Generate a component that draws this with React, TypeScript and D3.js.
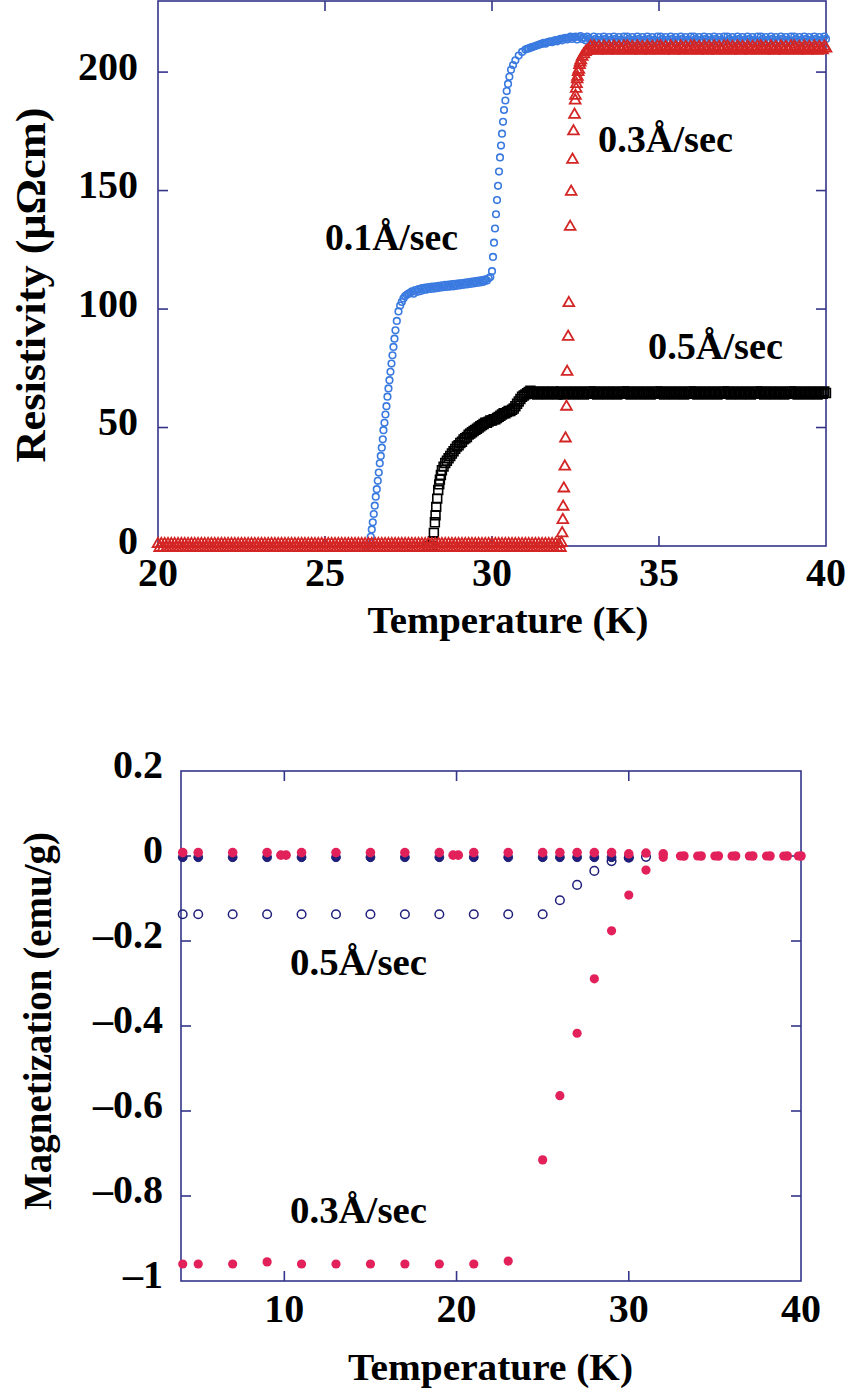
import React from "react";
import * as d3 from "d3";

const FONT = "'Liberation Serif', 'Times New Roman', Times, serif";
const FRAME = "#34348a";

// ---------- Top chart: resistivity vs temperature ----------
const topXTicks = [20, 25, 30, 35, 40];
const topYTicks = [0, 50, 100, 150, 200];

// 0.1 Å/sec (blue open circles)
const rate01: [number, number][] = [
  [26.2, 0], [26.3, 0.5], [26.35, 1.5],
  [26.37, 3.9], [26.4, 7], [26.43, 10], [26.46, 13.5], [26.49, 17], [26.52, 20.8], [26.55, 24], [26.58, 27.5],
  [26.61, 31], [26.64, 34.9], [26.67, 38], [26.7, 41.5], [26.73, 45], [26.75, 48.9], [26.78, 52], [26.81, 55.5],
  [26.84, 59], [26.87, 63], [26.9, 66.5], [26.93, 70], [26.96, 73.5], [26.99, 77], [27.02, 80.5], [27.05, 84],
  [27.08, 87.5], [27.11, 91], [27.15, 95], [27.2, 99], [27.25, 101.5], [27.3, 103], [27.35, 104.5], [27.4, 105.5],
  [27.45, 106], [27.5, 106.5],
  [27.55, 106.8], [27.6, 107.5], [27.65, 106.5], [27.7, 108], [27.75, 107.2], [27.8, 108.4], [27.85, 107.5], [27.9, 108.8],
  [27.95, 108], [28, 109], [28.05, 108.2], [28.1, 109.3], [28.15, 108.5], [28.2, 109.5], [28.25, 108.6], [28.3, 109.6],
  [28.35, 108.8], [28.4, 109.8], [28.45, 109], [28.5, 110], [28.55, 109.2], [28.6, 110.2], [28.65, 109.3], [28.7, 110.3],
  [28.75, 109.5], [28.8, 110.5], [28.85, 109.6], [28.9, 110.6], [28.95, 109.8], [29, 110.8], [29.05, 110], [29.1, 111],
  [29.15, 110.2], [29.2, 111.2], [29.25, 110.4], [29.3, 111.4], [29.35, 110.6], [29.4, 111.6], [29.45, 110.8], [29.5, 111.8],
  [29.55, 111], [29.6, 112], [29.65, 111.2], [29.7, 112.2], [29.75, 111.5], [29.8, 112.5], [29.85, 112], [29.9, 113],
  [29.95, 113.5],
  [30.0, 116], [30.03, 122], [30.06, 128], [30.09, 134], [30.12, 140], [30.15, 146], [30.18, 152], [30.21, 158],
  [30.24, 164], [30.27, 169], [30.3, 174], [30.33, 179], [30.36, 184], [30.4, 188], [30.44, 192], [30.48, 195],
  [30.52, 198], [30.57, 201], [30.63, 203], [30.7, 205], [30.8, 207], [30.9, 208.5],
  [31, 209.5], [31.05, 209.8], [31.1, 210], [31.15, 210.3], [31.2, 210.5], [31.25, 210.8], [31.3, 211], [31.35, 211.3],
  [31.4, 211.5], [31.45, 211.8], [31.5, 212], [31.55, 212.3], [31.6, 212], [31.65, 212.5], [31.7, 212.8], [31.75, 213],
  [31.8, 212.6], [31.85, 213.2], [31.9, 213.5], [31.95, 213], [32, 213.6], [32.05, 214], [32.1, 213.4], [32.15, 214.2],
  [32.2, 214.5], [32.25, 213.8], [32.3, 214.4], [32.35, 215], [32.4, 214], [32.45, 214.6], [32.5, 215], [32.55, 213.8],
  [32.6, 214.8], [32.65, 215.2], [32.7, 214], [32.75, 214.6], [32.8, 213.4], [32.85, 215], [32.9, 214.2], [32.95, 213.6],
  [33, 213.2], [33.05, 215], [33.1, 214], [33.15, 212.8], [33.2, 214.8], [33.25, 213.6], [33.3, 213.2], [33.35, 215], [33.4, 214], [33.45, 212.8], [33.5, 214.8], [33.55, 213.6], [33.6, 213.2], [33.65, 215], [33.7, 214], [33.75, 212.8], [33.8, 214.8], [33.85, 213.6], [33.9, 213.2], [33.95, 215],
  [34, 213.2], [34.05, 215], [34.1, 214], [34.15, 212.8], [34.2, 214.8], [34.25, 213.6], [34.3, 213.2], [34.35, 215], [34.4, 214], [34.45, 212.8], [34.5, 214.8], [34.55, 213.6], [34.6, 213.2], [34.65, 215], [34.7, 214], [34.75, 212.8], [34.8, 214.8], [34.85, 213.6], [34.9, 213.2], [34.95, 215],
  [35, 213.2], [35.05, 215], [35.1, 214], [35.15, 212.8], [35.2, 214.8], [35.25, 213.6], [35.3, 213.2], [35.35, 215], [35.4, 214], [35.45, 212.8], [35.5, 214.8], [35.55, 213.6], [35.6, 213.2], [35.65, 215], [35.7, 214], [35.75, 212.8], [35.8, 214.8], [35.85, 213.6], [35.9, 213.2], [35.95, 215],
  [36, 213.2], [36.05, 215], [36.1, 214], [36.15, 212.8], [36.2, 214.8], [36.25, 213.6], [36.3, 213.2], [36.35, 215], [36.4, 214], [36.45, 212.8], [36.5, 214.8], [36.55, 213.6], [36.6, 213.2], [36.65, 215], [36.7, 214], [36.75, 212.8], [36.8, 214.8], [36.85, 213.6], [36.9, 213.2], [36.95, 215],
  [37, 213.2], [37.05, 215], [37.1, 214], [37.15, 212.8], [37.2, 214.8], [37.25, 213.6], [37.3, 213.2], [37.35, 215], [37.4, 214], [37.45, 212.8], [37.5, 214.8], [37.55, 213.6], [37.6, 213.2], [37.65, 215], [37.7, 214], [37.75, 212.8], [37.8, 214.8], [37.85, 213.6], [37.9, 213.2], [37.95, 215],
  [38, 213.2], [38.05, 215], [38.1, 214], [38.15, 212.8], [38.2, 214.8], [38.25, 213.6], [38.3, 213.2], [38.35, 215], [38.4, 214], [38.45, 212.8], [38.5, 214.8], [38.55, 213.6], [38.6, 213.2], [38.65, 215], [38.7, 214], [38.75, 212.8], [38.8, 214.8], [38.85, 213.6], [38.9, 213.2], [38.95, 215],
  [39, 213.2], [39.05, 215], [39.1, 214], [39.15, 212.8], [39.2, 214.8], [39.25, 213.6], [39.3, 213.2], [39.35, 215], [39.4, 214], [39.45, 212.8], [39.5, 214.8], [39.55, 213.6], [39.6, 213.2], [39.65, 215], [39.7, 214], [39.75, 212.8], [39.8, 214.8], [39.85, 213.6], [39.9, 213.2], [39.95, 215],
  [40, 214],
];

// 0.5 Å/sec (black open squares)
const rate05: [number, number][] = [
  [28.1, 0], [28.2, 0], [28.23, 2], [28.26, 5.5], [28.29, 10], [28.31, 13], [28.33, 16.5], [28.36, 20],
  [28.39, 23.6], [28.42, 26], [28.44, 28], [28.47, 30], [28.5, 32], [28.55, 33.5], [28.6, 35], [28.65, 36],
  [28.7, 37], [28.75, 38], [28.8, 39], [28.85, 40], [28.9, 41], [28.95, 42], [29.0, 42.5], [29.05, 43.5],
  [29.1, 44], [29.15, 45], [29.2, 45.5], [29.25, 46], [29.3, 47], [29.35, 47.5], [29.4, 48], [29.45, 48.5],
  [29.5, 49], [29.55, 49.5], [29.6, 50], [29.65, 50.5], [29.7, 51], [29.75, 51.5], [29.8, 52], [29.85, 52],
  [29.9, 52.5], [29.95, 53], [30.0, 53], [30.05, 53.5], [30.1, 53.5], [30.15, 54], [30.2, 54.5], [30.25, 55],
  [30.3, 55.5], [30.35, 56], [30.4, 56], [30.45, 56.5], [30.5, 57], [30.55, 57], [30.6, 57.5], [30.65, 58],
  [30.7, 59], [30.75, 60], [30.8, 61], [30.85, 62], [30.9, 63], [30.95, 63.5], [31.0, 64], [31.05, 64.5],
  [31.1, 65], [31.15, 65.5],
  [31.2, 64.2], [31.25, 65.2], [31.3, 64.6], [31.35, 63.9], [31.4, 65], [31.45, 64.4], [31.5, 64.2], [31.55, 65.2], [31.6, 64.6], [31.65, 63.9], [31.7, 65], [31.75, 64.4], [31.8, 64.2], [31.85, 65.2], [31.9, 64.6], [31.95, 63.9],
  [32, 64.2], [32.05, 65.2], [32.1, 64.6], [32.15, 63.9], [32.2, 65], [32.25, 64.4], [32.3, 64.2], [32.35, 65.2], [32.4, 64.6], [32.45, 63.9], [32.5, 65], [32.55, 64.4], [32.6, 64.2], [32.65, 65.2], [32.7, 64.6], [32.75, 63.9], [32.8, 65], [32.85, 64.4], [32.9, 64.2], [32.95, 65.2],
  [33, 64.2], [33.05, 65.2], [33.1, 64.6], [33.15, 63.9], [33.2, 65], [33.25, 64.4], [33.3, 64.2], [33.35, 65.2], [33.4, 64.6], [33.45, 63.9], [33.5, 65], [33.55, 64.4], [33.6, 64.2], [33.65, 65.2], [33.7, 64.6], [33.75, 63.9], [33.8, 65], [33.85, 64.4], [33.9, 64.2], [33.95, 65.2],
  [34, 64.2], [34.05, 65.2], [34.1, 64.6], [34.15, 63.9], [34.2, 65], [34.25, 64.4], [34.3, 64.2], [34.35, 65.2], [34.4, 64.6], [34.45, 63.9], [34.5, 65], [34.55, 64.4], [34.6, 64.2], [34.65, 65.2], [34.7, 64.6], [34.75, 63.9], [34.8, 65], [34.85, 64.4], [34.9, 64.2], [34.95, 65.2],
  [35, 64.2], [35.05, 65.2], [35.1, 64.6], [35.15, 63.9], [35.2, 65], [35.25, 64.4], [35.3, 64.2], [35.35, 65.2], [35.4, 64.6], [35.45, 63.9], [35.5, 65], [35.55, 64.4], [35.6, 64.2], [35.65, 65.2], [35.7, 64.6], [35.75, 63.9], [35.8, 65], [35.85, 64.4], [35.9, 64.2], [35.95, 65.2],
  [36, 64.2], [36.05, 65.2], [36.1, 64.6], [36.15, 63.9], [36.2, 65], [36.25, 64.4], [36.3, 64.2], [36.35, 65.2], [36.4, 64.6], [36.45, 63.9], [36.5, 65], [36.55, 64.4], [36.6, 64.2], [36.65, 65.2], [36.7, 64.6], [36.75, 63.9], [36.8, 65], [36.85, 64.4], [36.9, 64.2], [36.95, 65.2],
  [37, 64.2], [37.05, 65.2], [37.1, 64.6], [37.15, 63.9], [37.2, 65], [37.25, 64.4], [37.3, 64.2], [37.35, 65.2], [37.4, 64.6], [37.45, 63.9], [37.5, 65], [37.55, 64.4], [37.6, 64.2], [37.65, 65.2], [37.7, 64.6], [37.75, 63.9], [37.8, 65], [37.85, 64.4], [37.9, 64.2], [37.95, 65.2],
  [38, 64.2], [38.05, 65.2], [38.1, 64.6], [38.15, 63.9], [38.2, 65], [38.25, 64.4], [38.3, 64.2], [38.35, 65.2], [38.4, 64.6], [38.45, 63.9], [38.5, 65], [38.55, 64.4], [38.6, 64.2], [38.65, 65.2], [38.7, 64.6], [38.75, 63.9], [38.8, 65], [38.85, 64.4], [38.9, 64.2], [38.95, 65.2],
  [39, 64.2], [39.05, 65.2], [39.1, 64.6], [39.15, 63.9], [39.2, 65], [39.25, 64.4], [39.3, 64.2], [39.35, 65.2], [39.4, 64.6], [39.45, 63.9], [39.5, 65], [39.55, 64.4], [39.6, 64.2], [39.65, 65.2], [39.7, 64.6], [39.75, 63.9], [39.8, 65], [39.85, 64.4], [39.9, 64.2], [39.95, 65.2],
  [40, 64.6],
];

// 0.3 Å/sec (red open triangles)
const rate03: [number, number][] = [
  [20, .8], [20.05, -.8], [20.1, .8], [20.15, -.8], [20.2, .8], [20.25, -.8], [20.3, .8], [20.35, -.8], [20.4, .8], [20.45, -.8], [20.5, .8], [20.55, -.8], [20.6, .8], [20.65, -.8], [20.7, .8], [20.75, -.8], [20.8, .8], [20.85, -.8], [20.9, .8], [20.95, -.8],
  [21, .8], [21.05, -.8], [21.1, .8], [21.15, -.8], [21.2, .8], [21.25, -.8], [21.3, .8], [21.35, -.8], [21.4, .8], [21.45, -.8], [21.5, .8], [21.55, -.8], [21.6, .8], [21.65, -.8], [21.7, .8], [21.75, -.8], [21.8, .8], [21.85, -.8], [21.9, .8], [21.95, -.8],
  [22, .8], [22.05, -.8], [22.1, .8], [22.15, -.8], [22.2, .8], [22.25, -.8], [22.3, .8], [22.35, -.8], [22.4, .8], [22.45, -.8], [22.5, .8], [22.55, -.8], [22.6, .8], [22.65, -.8], [22.7, .8], [22.75, -.8], [22.8, .8], [22.85, -.8], [22.9, .8], [22.95, -.8],
  [23, .8], [23.05, -.8], [23.1, .8], [23.15, -.8], [23.2, .8], [23.25, -.8], [23.3, .8], [23.35, -.8], [23.4, .8], [23.45, -.8], [23.5, .8], [23.55, -.8], [23.6, .8], [23.65, -.8], [23.7, .8], [23.75, -.8], [23.8, .8], [23.85, -.8], [23.9, .8], [23.95, -.8],
  [24, .8], [24.05, -.8], [24.1, .8], [24.15, -.8], [24.2, .8], [24.25, -.8], [24.3, .8], [24.35, -.8], [24.4, .8], [24.45, -.8], [24.5, .8], [24.55, -.8], [24.6, .8], [24.65, -.8], [24.7, .8], [24.75, -.8], [24.8, .8], [24.85, -.8], [24.9, .8], [24.95, -.8],
  [25, .8], [25.05, -.8], [25.1, .8], [25.15, -.8], [25.2, .8], [25.25, -.8], [25.3, .8], [25.35, -.8], [25.4, .8], [25.45, -.8], [25.5, .8], [25.55, -.8], [25.6, .8], [25.65, -.8], [25.7, .8], [25.75, -.8], [25.8, .8], [25.85, -.8], [25.9, .8], [25.95, -.8],
  [26, .8], [26.05, -.8], [26.1, .8], [26.15, -.8], [26.2, .8], [26.25, -.8], [26.3, .8], [26.35, -.8], [26.4, .8], [26.45, -.8], [26.5, .8], [26.55, -.8], [26.6, .8], [26.65, -.8], [26.7, .8], [26.75, -.8], [26.8, .8], [26.85, -.8], [26.9, .8], [26.95, -.8],
  [27, .8], [27.05, -.8], [27.1, .8], [27.15, -.8], [27.2, .8], [27.25, -.8], [27.3, .8], [27.35, -.8], [27.4, .8], [27.45, -.8], [27.5, .8], [27.55, -.8], [27.6, .8], [27.65, -.8], [27.7, .8], [27.75, -.8], [27.8, .8], [27.85, -.8], [27.9, .8], [27.95, -.8],
  [28, .8], [28.05, -.8], [28.1, .8], [28.15, -.8], [28.2, .8], [28.25, -.8], [28.3, .8], [28.35, -.8], [28.4, .8], [28.45, -.8], [28.5, .8], [28.55, -.8], [28.6, .8], [28.65, -.8], [28.7, .8], [28.75, -.8], [28.8, .8], [28.85, -.8], [28.9, .8], [28.95, -.8],
  [29, .8], [29.05, -.8], [29.1, .8], [29.15, -.8], [29.2, .8], [29.25, -.8], [29.3, .8], [29.35, -.8], [29.4, .8], [29.45, -.8], [29.5, .8], [29.55, -.8], [29.6, .8], [29.65, -.8], [29.7, .8], [29.75, -.8], [29.8, .8], [29.85, -.8], [29.9, .8], [29.95, -.8],
  [30, .8], [30.05, -.8], [30.1, .8], [30.15, -.8], [30.2, .8], [30.25, -.8], [30.3, .8], [30.35, -.8], [30.4, .8], [30.45, -.8], [30.5, .8], [30.55, -.8], [30.6, .8], [30.65, -.8], [30.7, .8], [30.75, -.8], [30.8, .8], [30.85, -.8], [30.9, .8], [30.95, -.8],
  [31, .8], [31.05, -.8], [31.1, .8], [31.15, -.8], [31.2, .8], [31.25, -.8], [31.3, .8], [31.35, -.8], [31.4, .8], [31.45, -.8], [31.5, .8], [31.55, -.8], [31.6, .8], [31.65, -.8], [31.7, .8], [31.75, -.8], [31.8, .8], [31.85, -.8], [31.9, .8], [31.95, -.8],
  [32, .8], [32.05, -.8],
  [32.08, 1.3], [32.1, 5.4], [32.12, 11], [32.13, 16.6], [32.15, 24.3], [32.18, 33.5], [32.2, 45.4], [32.23, 58.8],
  [32.25, 73.5], [32.28, 88.3], [32.3, 102.5], [32.34, 134.7], [32.37, 149.5], [32.41, 163], [32.44, 175],
  [32.47, 182], [32.49, 188], [32.5, 190], [32.52, 193], [32.53, 195], [32.55, 197], [32.56, 198], [32.58, 200],
  [32.6, 201], [32.62, 203], [32.64, 204], [32.66, 205], [32.7, 206.5], [32.75, 207.5], [32.8, 208.5], [32.85, 209],
  [32.9, 209.2], [32.95, 210.8],
  [33, 209.2], [33.05, 210.8], [33.1, 210], [33.15, 209], [33.2, 210.6], [33.25, 209.6], [33.3, 209.2], [33.35, 210.8], [33.4, 210], [33.45, 209], [33.5, 210.6], [33.55, 209.6], [33.6, 209.2], [33.65, 210.8], [33.7, 210], [33.75, 209], [33.8, 210.6], [33.85, 209.6], [33.9, 209.2], [33.95, 210.8],
  [34, 209.2], [34.05, 210.8], [34.1, 210], [34.15, 209], [34.2, 210.6], [34.25, 209.6], [34.3, 209.2], [34.35, 210.8], [34.4, 210], [34.45, 209], [34.5, 210.6], [34.55, 209.6], [34.6, 209.2], [34.65, 210.8], [34.7, 210], [34.75, 209], [34.8, 210.6], [34.85, 209.6], [34.9, 209.2], [34.95, 210.8],
  [35, 209.2], [35.05, 210.8], [35.1, 210], [35.15, 209], [35.2, 210.6], [35.25, 209.6], [35.3, 209.2], [35.35, 210.8], [35.4, 210], [35.45, 209], [35.5, 210.6], [35.55, 209.6], [35.6, 209.2], [35.65, 210.8], [35.7, 210], [35.75, 209], [35.8, 210.6], [35.85, 209.6], [35.9, 209.2], [35.95, 210.8],
  [36, 209.2], [36.05, 210.8], [36.1, 210], [36.15, 209], [36.2, 210.6], [36.25, 209.6], [36.3, 209.2], [36.35, 210.8], [36.4, 210], [36.45, 209], [36.5, 210.6], [36.55, 209.6], [36.6, 209.2], [36.65, 210.8], [36.7, 210], [36.75, 209], [36.8, 210.6], [36.85, 209.6], [36.9, 209.2], [36.95, 210.8],
  [37, 209.2], [37.05, 210.8], [37.1, 210], [37.15, 209], [37.2, 210.6], [37.25, 209.6], [37.3, 209.2], [37.35, 210.8], [37.4, 210], [37.45, 209], [37.5, 210.6], [37.55, 209.6], [37.6, 209.2], [37.65, 210.8], [37.7, 210], [37.75, 209], [37.8, 210.6], [37.85, 209.6], [37.9, 209.2], [37.95, 210.8],
  [38, 209.2], [38.05, 210.8], [38.1, 210], [38.15, 209], [38.2, 210.6], [38.25, 209.6], [38.3, 209.2], [38.35, 210.8], [38.4, 210], [38.45, 209], [38.5, 210.6], [38.55, 209.6], [38.6, 209.2], [38.65, 210.8], [38.7, 210], [38.75, 209], [38.8, 210.6], [38.85, 209.6], [38.9, 209.2], [38.95, 210.8],
  [39, 209.2], [39.05, 210.8], [39.1, 210], [39.15, 209], [39.2, 210.6], [39.25, 209.6], [39.3, 209.2], [39.35, 210.8], [39.4, 210], [39.45, 209], [39.5, 210.6], [39.55, 209.6], [39.6, 209.2], [39.65, 210.8], [39.7, 210], [39.75, 209], [39.8, 210.6], [39.85, 209.6], [39.9, 209.2], [39.95, 210.8],
  [40, 210],
];

// ---------- Bottom chart: magnetization vs temperature ----------
const botXTicks = [10, 20, 30, 40];
const botYTicks = [0.2, 0, -0.2, -0.4, -0.6, -0.8, -1];
const botYLabels = ["0.2", "0", "\u20130.2", "\u20130.4", "\u20130.6", "\u20130.8", "\u20131"];

// 0.5 Å/sec, zero-field-cooled (navy open circles)
const zfc05: [number, number][] = [
  [4.1, -0.137], [5, -0.137], [7, -0.137], [9, -0.137], [11, -0.137], [13, -0.137], [15, -0.137], [17, -0.137],
  [19, -0.137], [21, -0.137], [23, -0.137], [25, -0.137], [26, -0.104], [27, -0.068], [28, -0.035], [29, -0.012],
  [30, -0.004], [31, -0.002],
];
// 0.5 Å/sec, field-cooled (navy, near zero)
const fc05: [number, number][] = [
  [4.1, -0.003], [5, -0.003], [7, -0.003], [9, -0.003], [11, -0.003], [13, -0.003], [15, -0.003], [17, -0.003],
  [19, -0.003], [21, -0.003], [23, -0.003], [25, -0.003], [26, -0.003], [27, -0.003], [28, -0.003], [29, -0.003],
  [30, -0.003],
];
// 0.3 Å/sec, zero-field-cooled (pink filled circles)
const zfc03: [number, number][] = [
  [4.1, -0.96], [5, -0.96], [7, -0.96], [9, -0.955], [11, -0.96], [13, -0.96], [15, -0.96], [17, -0.96],
  [19, -0.96], [21, -0.96], [23, -0.953], [25, -0.715], [26, -0.564], [27, -0.417], [28, -0.289], [29, -0.176],
  [30, -0.092], [31, -0.033], [32, -0.003], [33, 0], [34, 0], [35, 0], [36, 0], [37, 0], [38, 0], [39, 0], [39.85, 0],
];
// 0.3 Å/sec, field-cooled (pink filled circles, near zero)
const fc03: [number, number][] = [
  [4.1, 0.008], [5, 0.008], [7, 0.008], [9, 0.008], [9.8, 0.002], [10.1, 0.002], [11, 0.008], [13, 0.008],
  [15, 0.008], [17, 0.008], [19, 0.008], [19.8, 0.002], [20.1, 0.002], [21, 0.008], [23, 0.008], [25, 0.008],
  [26, 0.008], [27, 0.008], [28, 0.008], [29, 0.008], [30, 0.005], [31, 0.007], [32, 0.005],
  [33.2, 0], [34.2, 0], [35.2, 0], [36.2, 0], [37.2, 0], [38.2, 0], [39.2, 0], [40, 0],
];

export default function App() {
  const xT = d3.scaleLinear().domain([20, 40]).range([158, 826]);
  const yT = d3.scaleLinear().domain([0, 230]).range([546, 1]);
  const xB = d3.scaleLinear().domain([4, 40]).range([181, 801]);
  const yB = d3.scaleLinear().domain([-1, 0.2]).range([1281, 771]);

  const tri = d3.symbol().type(d3.symbolTriangle).size(50)() as string;
  const sq = d3.symbol().type(d3.symbolSquare).size(78)() as string;

  const tick = 10;
  const txt = { fontFamily: FONT, fontWeight: 700 as const, fill: "#000" };

  const [tx0, tx1] = xT.range();
  const [ty0, ty1] = yT.range();
  const [bx0, bx1] = xB.range();
  const [by0, by1] = yB.range();

  return (
    <svg width={848} height={1395} style={{ position: "absolute", left: 0, top: 0, background: "#fff" }}>
      {/* ===== TOP CHART ===== */}
      <g>
        <rect x={tx0} y={ty1} width={tx1 - tx0} height={ty0 - ty1} fill="none" stroke={FRAME} strokeWidth={1.6} />
        {topXTicks.filter((t) => t > 20 && t < 40).map((t) => (
          <g key={"tx" + t} stroke={FRAME} strokeWidth={1.6}>
            <line x1={xT(t)} x2={xT(t)} y1={ty0} y2={ty0 - tick} />
            <line x1={xT(t)} x2={xT(t)} y1={ty1} y2={ty1 + tick} />
          </g>
        ))}
        {topYTicks.filter((v) => v > 0).map((v) => (
          <g key={"ty" + v} stroke={FRAME} strokeWidth={1.6}>
            <line x1={tx0} x2={tx0 + tick} y1={yT(v)} y2={yT(v)} />
            <line x1={tx1} x2={tx1 - tick} y1={yT(v)} y2={yT(v)} />
          </g>
        ))}

        {rate01.map(([t, r], i) => (
          <circle key={"b" + i} cx={xT(t)} cy={yT(r)} r={3.3} fill="none" stroke="#3a7ae0" strokeWidth={1.6} />
        ))}
        {rate05.map(([t, r], i) => (
          <path key={"k" + i} d={sq} transform={`translate(${xT(t)},${yT(r)})`} fill="none" stroke="#000" strokeWidth={1.6} />
        ))}
        {rate03.map(([t, r], i) => (
          <path key={"r" + i} d={tri} transform={`translate(${xT(t)},${yT(r)})`} fill="none" stroke="#d42525" strokeWidth={1.8} />
        ))}

        {topXTicks.map((t) => (
          <text key={"txl" + t} x={xT(t)} y={586} textAnchor="middle" fontSize={40} {...txt}>{t}</text>
        ))}
        {topYTicks.map((v) => (
          <text key={"tyl" + v} x={138} y={yT(v) + 7.5} textAnchor="end" fontSize={40} {...txt}>{v}</text>
        ))}
        <text x={508} y={633} textAnchor="middle" fontSize={38} textLength={281} lengthAdjust="spacingAndGlyphs" {...txt}>Temperature (K)</text>
        <text transform="translate(45,285) rotate(-90)" textAnchor="middle" fontSize={42} textLength={355} lengthAdjust="spacingAndGlyphs" {...txt}>Resistivity (μΩcm)</text>

        <text x={325} y={250} fontSize={37} textLength={133} lengthAdjust="spacingAndGlyphs" {...txt}>0.1Å/sec</text>
        <text x={598} y={152} fontSize={37} textLength={135} lengthAdjust="spacingAndGlyphs" {...txt}>0.3Å/sec</text>
        <text x={648} y={359} fontSize={37} textLength={135} lengthAdjust="spacingAndGlyphs" {...txt}>0.5Å/sec</text>
      </g>

      {/* ===== BOTTOM CHART ===== */}
      <g>
        <rect x={bx0} y={by1} width={bx1 - bx0} height={by0 - by1} fill="none" stroke={FRAME} strokeWidth={1.6} />
        {botXTicks.filter((t) => t < 40).map((t) => (
          <g key={"bx" + t} stroke={FRAME} strokeWidth={1.6}>
            <line x1={xB(t)} x2={xB(t)} y1={by0} y2={by0 - tick} />
            <line x1={xB(t)} x2={xB(t)} y1={by1} y2={by1 + tick} />
          </g>
        ))}
        {botYTicks.filter((v) => v > -1 && v < 0.2).map((v) => (
          <g key={"by" + v} stroke={FRAME} strokeWidth={1.6}>
            <line x1={bx0} x2={bx0 + tick} y1={yB(v)} y2={yB(v)} />
            <line x1={bx1} x2={bx1 - tick} y1={yB(v)} y2={yB(v)} />
          </g>
        ))}

        {zfc05.map(([t, m], i) => (
          <circle key={"z5" + i} cx={xB(t)} cy={yB(m)} r={4.3} fill="none" stroke="#1f1f7a" strokeWidth={1.5} />
        ))}
        {fc05.map(([t, m], i) => (
          <circle key={"f5" + i} cx={xB(t)} cy={yB(m)} r={4.4} fill="#1f1f7a" stroke="#1f1f7a" strokeWidth={1} />
        ))}
        {zfc03.map(([t, m], i) => (
          <circle key={"z3" + i} cx={xB(t)} cy={yB(m)} r={4.6} fill="#e2215a" />
        ))}
        {fc03.map(([t, m], i) => (
          <circle key={"f3" + i} cx={xB(t)} cy={yB(m)} r={4.8} fill="#e2215a" />
        ))}

        {botXTicks.map((t) => (
          <text key={"bxl" + t} x={xB(t)} y={1322} textAnchor="middle" fontSize={40} {...txt}>{t}</text>
        ))}
        {botYTicks.map((v, i) => (
          <text key={"byl" + v} x={163} y={yB(v) + 7} textAnchor="end" fontSize={40} {...txt}>{botYLabels[i]}</text>
        ))}
        <text x={490.5} y={1380} textAnchor="middle" fontSize={38.5} textLength={285} lengthAdjust="spacingAndGlyphs" {...txt}>Temperature (K)</text>
        <text transform="translate(51,1021) rotate(-90)" textAnchor="middle" fontSize={39} textLength={378} lengthAdjust="spacingAndGlyphs" {...txt}>Magnetization (emu/g)</text>

        <text x={290} y={975} fontSize={37} textLength={137} lengthAdjust="spacingAndGlyphs" {...txt}>0.5Å/sec</text>
        <text x={290} y={1223} fontSize={37} textLength={137} lengthAdjust="spacingAndGlyphs" {...txt}>0.3Å/sec</text>
      </g>
    </svg>
  );
}
